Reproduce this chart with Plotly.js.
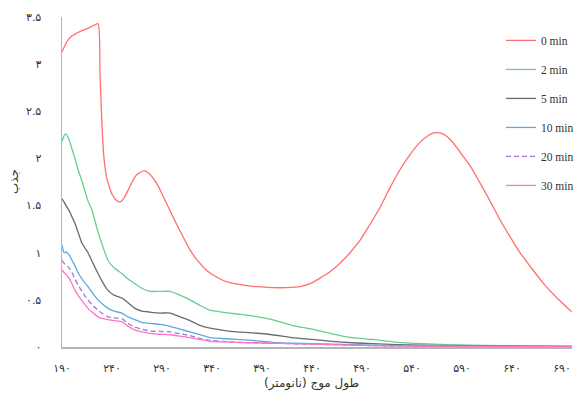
<!DOCTYPE html>
<html>
<head>
<meta charset="utf-8">
<script src="https://cdn.plot.ly/plotly-3.0.1.min.js"></script>
<style>html,body{margin:0;padding:0;background:#fff}#chart{width:581px;height:399px}</style>
</head>
<body>
<div id="chart"></div>
<script>
// wavelength (nm) for the 0 min series
const wl0 = [190,195,200,205,211,218,226,228,230,232,235,240,244,248,252,256,260,265,272,278,285,292,300,310,318,326,335,345,355,370,385,400,415,428,440,448,457,465,472,478,488,498,508,518,528,538,548,556,562,568,574,580,590,600,608,618,628,638,648,660,671,685,700];
const a0 = [3.13,3.24,3.30,3.33,3.36,3.39,3.43,2.90,2.35,2.00,1.78,1.62,1.56,1.54,1.58,1.66,1.75,1.83,1.87,1.83,1.73,1.58,1.40,1.19,1.03,0.91,0.81,0.74,0.69,0.66,0.64,0.63,0.63,0.64,0.68,0.73,0.79,0.86,0.93,1.00,1.13,1.30,1.48,1.69,1.88,2.04,2.17,2.24,2.27,2.27,2.24,2.18,2.04,1.89,1.74,1.55,1.35,1.17,1.00,0.83,0.68,0.52,0.37];

// wavelength (nm) for the other series
const wl = [190,192,194,197,200,203,206,210,213,216,220,226,231,236,242,250,256,263,270,278,288,298,308,318,328,338,350,365,380,400,420,440,460,480,500,525,550,575,600,630,660,700];
const a2 = [2.18,2.24,2.26,2.20,2.10,2.00,1.88,1.76,1.65,1.55,1.45,1.22,1.06,0.92,0.84,0.78,0.72,0.67,0.62,0.59,0.59,0.59,0.55,0.50,0.44,0.39,0.37,0.35,0.33,0.29,0.23,0.19,0.14,0.10,0.08,0.05,0.035,0.025,0.02,0.015,0.01,0.01];
const a5 = [1.57,1.54,1.50,1.45,1.38,1.31,1.22,1.10,1.05,1.00,0.91,0.78,0.68,0.60,0.55,0.52,0.47,0.41,0.38,0.37,0.36,0.36,0.32,0.28,0.23,0.20,0.18,0.16,0.15,0.13,0.10,0.08,0.06,0.045,0.035,0.025,0.02,0.015,0.012,0.01,0.008,0.006];
const a10 = [1.08,1.00,1.01,0.98,0.92,0.86,0.79,0.72,0.68,0.64,0.58,0.50,0.45,0.41,0.38,0.36,0.32,0.29,0.26,0.25,0.24,0.22,0.19,0.16,0.13,0.10,0.09,0.08,0.07,0.05,0.04,0.035,0.03,0.025,0.02,0.015,0.012,0.01,0.008,0.006,0.005,0.004];
const a20 = [0.92,0.89,0.87,0.84,0.79,0.72,0.66,0.59,0.54,0.50,0.45,0.39,0.35,0.32,0.31,0.30,0.25,0.21,0.19,0.17,0.165,0.16,0.14,0.12,0.09,0.07,0.06,0.05,0.045,0.04,0.035,0.03,0.025,0.02,0.015,0.012,0.01,0.008,0.006,0.005,0.004,0.003];
const a30 = [0.82,0.79,0.77,0.73,0.67,0.60,0.55,0.49,0.45,0.41,0.37,0.32,0.30,0.29,0.28,0.27,0.22,0.18,0.16,0.145,0.135,0.13,0.115,0.10,0.08,0.06,0.055,0.05,0.045,0.04,0.035,0.03,0.025,0.02,0.015,0.012,0.01,0.008,0.006,0.005,0.004,0.003];

const seriesNames = ["0 min","2 min","5 min","10 min","20 min","30 min"];
const xTickVals = [190,240,290,340,390,440,490,540,590,640,690];
const xTickText = ["۱۹۰","۲۴۰","۲۹۰","۳۴۰","۳۹۰","۴۴۰","۴۹۰","۵۴۰","۵۹۰","۶۴۰","۶۹۰"];
const yTickVals = [0,0.5,1,1.5,2,2.5,3,3.5];
const yTickText = ["۰","۰.۵","۱","۱.۵","۲","۲.۵","۳","۳.۵"];
const xTitle = "طول موج (نانومتر)";
const yTitle = "جذب";

const colors = ["#ff6f6f","#62d08e","#6b6b6b","#5fa8e3","#a07ad0","#ff73c4"];
const dashes = ["solid","solid","solid","solid","5px,3px","solid"];
const xs = [wl0, wl, wl, wl, wl, wl];
const ys = [a0, a2, a5, a10, a20, a30];

const traces = ys.map((y, i) => ({
  type: "scatter", mode: "lines", x: xs[i], y: y, name: seriesNames[i],
  legendgroup: "g" + i,
  line: {color: colors[i], width: 1.3, dash: dashes[i], shape: "spline", smoothing: 0.5},
  hoverinfo: "skip"
}));

const layout = {
  width: 581, height: 399,
  margin: {l: 62, r: 9, t: 17, b: 52, autoexpand: false},
  paper_bgcolor: "#fff", plot_bgcolor: "#fff",
  showlegend: true,
  legend: {xref: "container", yref: "container", x: 0.8623, y: 0.935, xanchor: "left", yanchor: "top",
    bgcolor: "rgba(0,0,0,0)",
    font: {family: "Liberation Serif", size: 11.5, color: "#333"},
    traceorder: "grouped", tracegroupgap: 10},
  xaxis: {range: [190, 700], tickvals: xTickVals, ticktext: xTickText, showgrid: false, zeroline: false,
    showline: true, linecolor: "#b5b5b5", linewidth: 1.5, ticks: "", ticklabelstandoff: 10,
    tickfont: {family: "DejaVu Sans", size: 11, color: "#333"}},
  yaxis: {range: [0, 3.5], tickvals: yTickVals, ticktext: yTickText, showgrid: false, zeroline: false,
    showline: true, linecolor: "#b5b5b5", linewidth: 1.5, ticks: "", ticklabelstandoff: 17,
    tickfont: {family: "DejaVu Sans", size: 11, color: "#333"}},
  annotations: [
    {text: xTitle, xref: "paper", yref: "paper", x: 0.49, y: -0.112, xanchor: "center", yanchor: "middle",
      showarrow: false, font: {family: "DejaVu Sans", size: 12, color: "#333"}},
    {text: yTitle, xref: "paper", yref: "paper", x: -0.094, y: 0.5, xanchor: "center", yanchor: "middle",
      textangle: -90, showarrow: false, font: {family: "DejaVu Sans", size: 12, color: "#333"}}
  ]
};

Plotly.newPlot("chart", traces, layout, {displayModeBar: false, staticPlot: true});
</script>
</body>
</html>
